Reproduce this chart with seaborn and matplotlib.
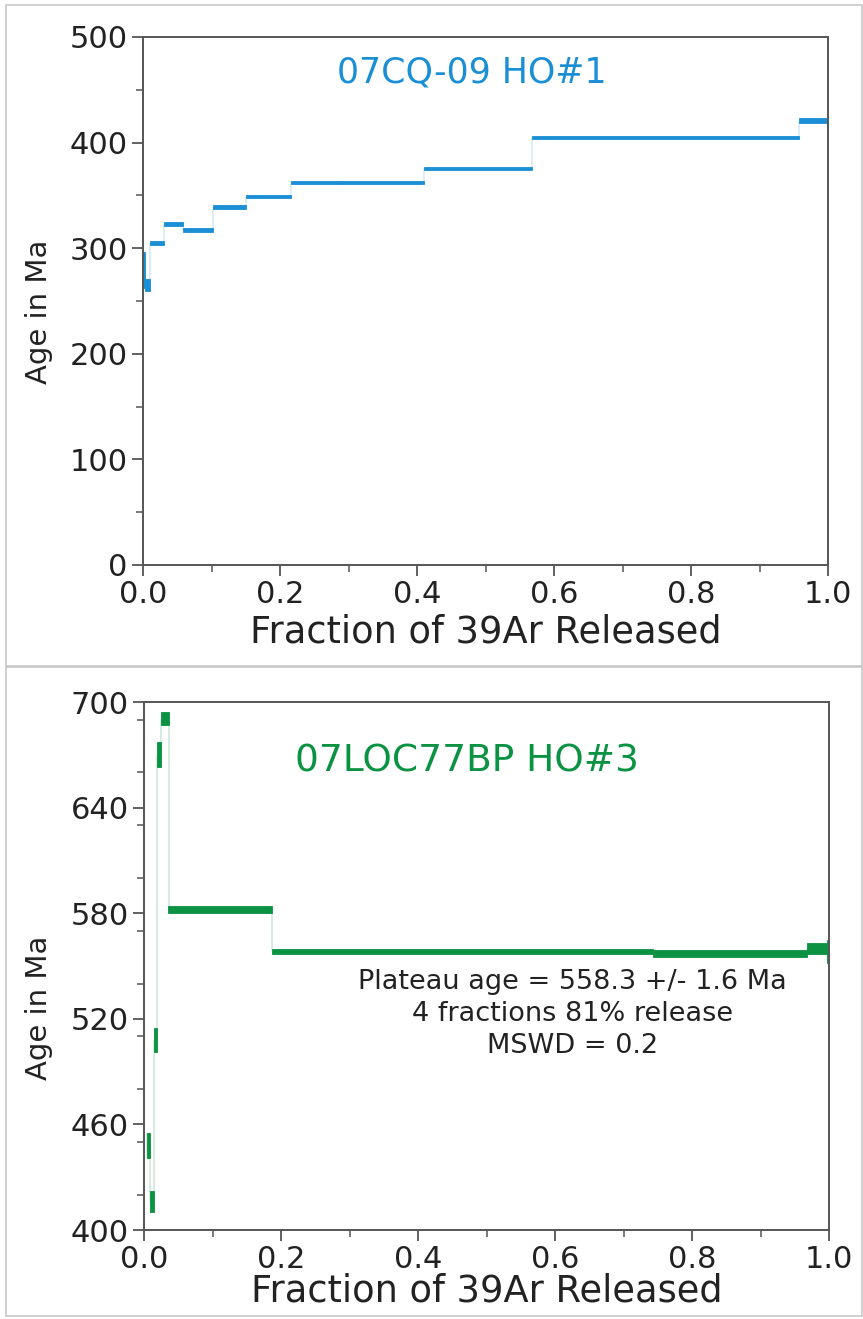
import numpy as np
import matplotlib
matplotlib.use("Agg")
import matplotlib.pyplot as plt
import seaborn as sns
from matplotlib.patches import Rectangle
from matplotlib.ticker import MultipleLocator

# ---------------- data ----------------
# Sample 07CQ-09 HO#1 (step heating spectrum)
top_frac_lo = [0.000, 0.003, 0.010, 0.031, 0.058, 0.102, 0.150, 0.216, 0.283, 0.410, 0.568, 0.958]
top_frac_hi = [0.003, 0.010, 0.031, 0.058, 0.102, 0.150, 0.216, 0.283, 0.410, 0.568, 0.958, 1.000]
top_age     = [279.0, 265.0, 304.6, 322.6, 316.9, 338.7, 348.7, 362.5, 362.0, 375.5, 405.0, 420.8]
top_err     = [17.0, 5.5, 2.0, 2.0, 2.0, 2.0, 1.6, 1.5, 1.2, 1.0, 1.5, 2.5]

# Sample 07LOC77BP HO#3
bot_frac_lo = [0.004, 0.009, 0.015, 0.019, 0.025, 0.035, 0.187, 0.743, 0.968, 0.997]
bot_frac_hi = [0.009, 0.015, 0.019, 0.025, 0.036, 0.187, 0.743, 0.968, 0.997, 1.000]
bot_age     = [448.0, 416.0, 508.0, 670.0, 690.6, 582.1, 558.3, 557.1, 560.0, 558.0]
bot_err     = [7.0, 6.0, 7.0, 7.0, 3.7, 2.0, 1.5, 2.0, 3.2, 6.5]

top_title = "07CQ-09 HO#1"
bot_title = "07LOC77BP HO#3"
plateau_text = "Plateau age = 558.3 +/- 1.6 Ma\n4 fractions 81% release\nMSWD = 0.2"
xlabel = "Fraction of 39Ar Released"
ylabel = "Age in Ma"
top_yticks = [0, 100, 200, 300, 400, 500]
bot_yticks = [400, 460, 520, 580, 640, 700]
xticks = [0.0, 0.2, 0.4, 0.6, 0.8, 1.0]

# ---------------- style ----------------
sns.set_theme(style="ticks")
plt.rcParams["font.family"] = ["DejaVu Sans"]

BLUE = "#1a8fd5"
BLUE_LIGHT = "#d4ebf7"
GREEN = "#0b9243"
GREEN_LIGHT = "#cfe9da"
SPINE = "#555555"
TEXT = "#222222"

W, H = 863, 1319
fig = plt.figure(figsize=(W / 100, H / 100), dpi=100)
fig.patch.set_facecolor("white")

# panel frames
fig.add_artist(Rectangle((6 / W, 1 - 666 / H), (W - 7) / W, 661 / H, transform=fig.transFigure,
                         fill=False, edgecolor="#c8c8c8", linewidth=1.2))
fig.add_artist(Rectangle((6 / W, 1 - 1316 / H), (W - 7) / W, 649 / H, transform=fig.transFigure,
                         fill=False, edgecolor="#c8c8c8", linewidth=1.2))


def make_axes(top_px, bottom_px, left_px=143, right_px=828):
    return fig.add_axes([left_px / W, 1 - bottom_px / H, (right_px - left_px) / W, (bottom_px - top_px) / H])


def draw_spectrum(ax, lo, hi, age, err, color, light):
    lo = np.asarray(lo); hi = np.asarray(hi); age = np.asarray(age); err = np.asarray(err)
    # light connectors between consecutive steps
    ax.vlines(hi[:-1], np.minimum(age[:-1], age[1:]), np.maximum(age[:-1], age[1:]),
              colors=light, linewidth=1.2, zorder=1)
    ax.vlines(lo[:1], age[:1] - err[:1], age[:1] + err[:1], colors=light, linewidth=1.2, zorder=1)
    ax.bar(lo, 2 * err, width=hi - lo, bottom=age - err, align="edge",
           color=color, edgecolor=color, linewidth=0.6, zorder=2)


def style_axes(ax, yticks, yminor, xlabelpad):
    for s in ax.spines.values():
        s.set_visible(True)
        s.set_color(SPINE)
        s.set_linewidth(1.4)
    ax.set_xlim(0, 1)
    ax.set_ylim(yticks[0], yticks[-1])
    ax.set_xticks(xticks)
    ax.set_xticklabels([f"{v:.1f}" for v in xticks])
    ax.set_yticks(yticks)
    ax.set_yticklabels([str(v) for v in yticks])
    ax.xaxis.set_minor_locator(MultipleLocator(0.1))
    ax.yaxis.set_minor_locator(MultipleLocator(yminor))
    ax.tick_params(axis="both", which="major", direction="out", length=8, width=1.3,
                   color=SPINE, labelsize=22, labelcolor=TEXT, pad=3,
                   top=False, right=False)
    ax.tick_params(axis="both", which="minor", direction="out", length=5, width=1.1,
                   color=SPINE, top=False, right=False)
    ax.set_xlabel(xlabel, fontsize=26.5, color=TEXT, labelpad=xlabelpad)
    ax.set_ylabel(ylabel, fontsize=21, color=TEXT)
    ax.set_facecolor("white")
    ax.grid(False)


# ---- top panel ----
ax1 = make_axes(37, 565, 143, 828)
draw_spectrum(ax1, top_frac_lo, top_frac_hi, top_age, top_err, BLUE, BLUE_LIGHT)
style_axes(ax1, top_yticks, 50, 3)
ax1.text(0.48, 0.932, top_title, transform=ax1.transAxes, ha="center", va="center",
         fontsize=25, color=BLUE)
ax1.yaxis.set_label_coords(-0.132, 0.48)

# ---- bottom panel ----
ax2 = make_axes(702, 1230, 144, 829)
draw_spectrum(ax2, bot_frac_lo, bot_frac_hi, bot_age, bot_err, GREEN, GREEN_LIGHT)
style_axes(ax2, bot_yticks, 30, -1.5)
ax2.text(0.472, 0.888, bot_title, transform=ax2.transAxes, ha="center", va="center",
         fontsize=27, color=GREEN)
ax2.text(0.625, 523.0, plateau_text, ha="center", va="center", fontsize=19.5,
         color=TEXT, linespacing=1.3)
ax2.yaxis.set_label_coords(-0.133, 0.42)

fig.savefig("out.png", dpi=100, facecolor="white")
